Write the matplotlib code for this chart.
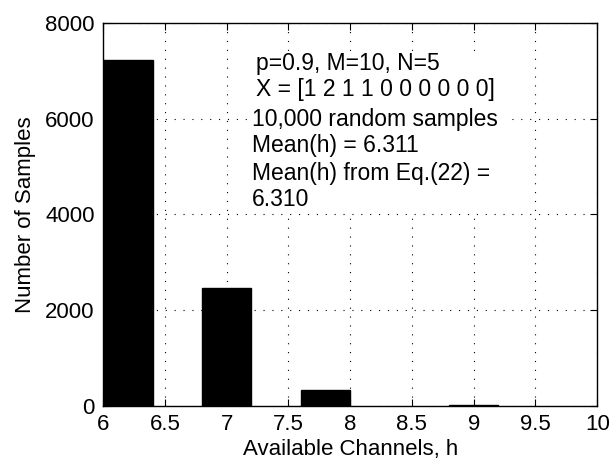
import matplotlib
matplotlib.use("Agg")
import matplotlib.pyplot as plt
from matplotlib.patches import Rectangle

# histogram of available channels h (10,000 samples)
bin_centers = [6.2, 7.0, 7.8, 9.0]
counts = [7225, 2470, 325, 10]
bar_width = 0.4

x_ticks = [6, 6.5, 7, 7.5, 8, 8.5, 9, 9.5, 10]
x_tick_labels = ["6", "6.5", "7", "7.5", "8", "8.5", "9", "9.5", "10"]
y_ticks = [0, 2000, 4000, 6000, 8000]

note_lines = [
    "p=0.9, M=10, N=5",
    "X = [1 2 1 1 0 0 0 0 0 0]",
    "10,000 random samples",
    "Mean(h) = 6.311",
    "Mean(h) from Eq.(22) =",
    "6.310",
]

plt.rcParams['font.family'] = ['Liberation Sans', 'DejaVu Sans']

fig = plt.figure(figsize=(6.1, 4.65), dpi=100)
ax = fig.add_axes([0.169, 0.127, 0.810, 0.824])

ax.bar(bin_centers, counts, width=bar_width, color="black", edgecolor="black", zorder=1)

ax.set_xlim(6, 10)
ax.set_ylim(0, 8000)
ax.set_xticks(x_ticks)
ax.set_xticklabels(x_tick_labels)
ax.set_yticks(y_ticks)
ax.tick_params(direction="in", top=True, right=True, length=5, width=0.8,
               labelsize=16, colors="black")
ax.tick_params(axis="x", pad=6)
ax.tick_params(axis="y", pad=6)
ax.grid(True, linestyle=(0, (1, 7)), color="black", linewidth=0.8, zorder=0)
ax.set_axisbelow(True)
for s in ax.spines.values():
    s.set_linewidth(1.0)

ax.set_xlabel("Available Channels, h", fontsize=16, labelpad=3)
ax.set_ylabel("Number of Samples", fontsize=16, labelpad=7)

# white patch behind the text block hides the grid there
ax.add_patch(Rectangle((0.295, 0.505), 0.52, 0.42, transform=ax.transAxes,
                       facecolor="white", edgecolor="none", zorder=2))

# annotation block, line by line (baselines in axes fraction)
line_y = [0.877, 0.810, 0.730, 0.664, 0.590, 0.521]
line_x = [0.309, 0.309, 0.302, 0.302, 0.302, 0.302]
for txt, xx, yy in zip(note_lines, line_x, line_y):
    ax.text(xx, yy, txt, transform=ax.transAxes, fontsize=16.5,
            va="baseline", ha="left", zorder=3)

fig.savefig("out.png", dpi=100)
